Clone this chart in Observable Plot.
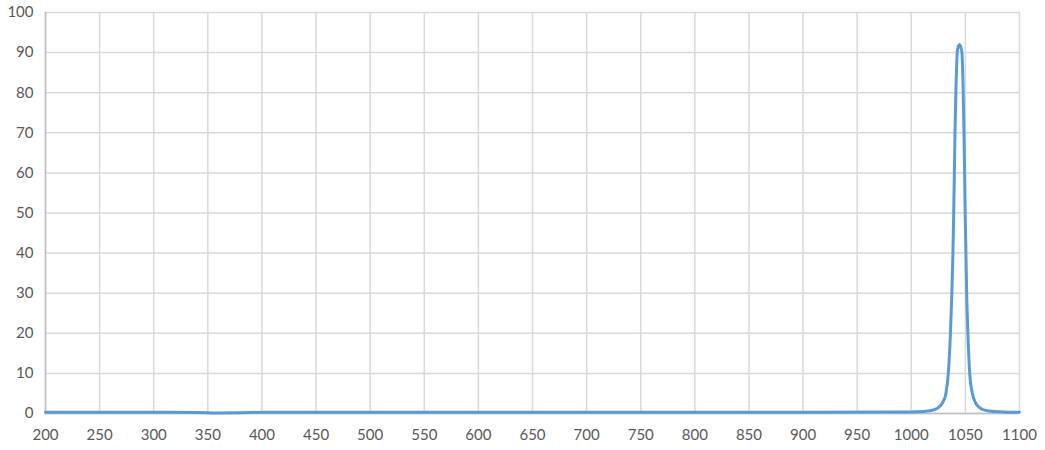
<!DOCTYPE html>
<html>
<head>
<meta charset="utf-8">
<script src="https://cdn.jsdelivr.net/npm/d3@7"></script>
<script src="https://cdn.jsdelivr.net/npm/@observablehq/plot@0.6"></script>
<style>
  html, body { margin: 0; padding: 0; background: #ffffff; }
  #chart { width: 1045px; height: 450px; }
</style>
</head>
<body>
<div id="chart"></div>
<script>
// Wavelength (nm) and transmission (%)
const wavelengths = [200, 250, 300, 340, 360, 380, 400, 500, 600, 700, 800, 900, 980, 1000, 1010, 1015, 1022, 1027, 1029.5, 1032, 1034.2, 1036.2, 1037.5, 1038.5, 1039.2, 1039.8, 1040.4, 1041.2, 1042.5, 1043.5, 1044.5, 1045.6, 1046.8, 1048, 1048.7, 1049.3, 1049.8, 1050.5, 1051.2, 1052.3, 1054, 1056.5, 1058.8, 1061, 1066, 1072, 1085, 1100];
const values      = [0.3, 0.3, 0.3, 0.25, 0.15, 0.2, 0.3, 0.3, 0.3, 0.3, 0.3, 0.3, 0.35, 0.4, 0.5, 0.6, 1, 2, 3, 5, 10, 20, 30, 40, 50, 60, 70, 80, 90, 91.6, 92, 91.5, 90, 80, 70, 60, 50, 40, 30, 20, 10, 5, 3, 2, 1, 0.6, 0.4, 0.3];
const xTicks = d3.range(200, 1101, 50);
const yTicks = d3.range(0, 101, 10);

const data = wavelengths.map((w, i) => ({w, v: values[i]}));

const chart = Plot.plot({
  width: 1045,
  height: 450,
  marginLeft: 45,
  marginRight: 26,
  marginTop: 12,
  marginBottom: 37,
  style: {fontFamily: "Lato, sans-serif", fontSize: "15px", color: "#595959", background: "#ffffff"},
  x: {domain: [200, 1100]},
  y: {domain: [0, 100]},
  marks: [
    Plot.gridX(xTicks, {stroke: "#d9d9d9", strokeOpacity: 1, strokeWidth: 1.5}),
    Plot.gridY(yTicks, {stroke: "#d9d9d9", strokeOpacity: 1, strokeWidth: 1.5}),
    Plot.ruleX([200], {stroke: "#bfbfbf", strokeWidth: 1.5}),
    Plot.ruleY([0], {stroke: "#bfbfbf", strokeWidth: 1.5}),
    Plot.axisX(xTicks, {tickSize: 0, tickPadding: 16, label: null, fill: "#595959", tickFormat: d => String(d)}),
    Plot.axisY(yTicks, {tickSize: 0, tickPadding: 12, label: null, fill: "#595959", tickFormat: d => String(d)}),
    Plot.line(data, {x: "w", y: "v", stroke: "#5b9bd5", strokeWidth: 3, curve: "monotone-x"})
  ]
});
document.getElementById("chart").appendChild(chart);
</script>
</body>
</html>
